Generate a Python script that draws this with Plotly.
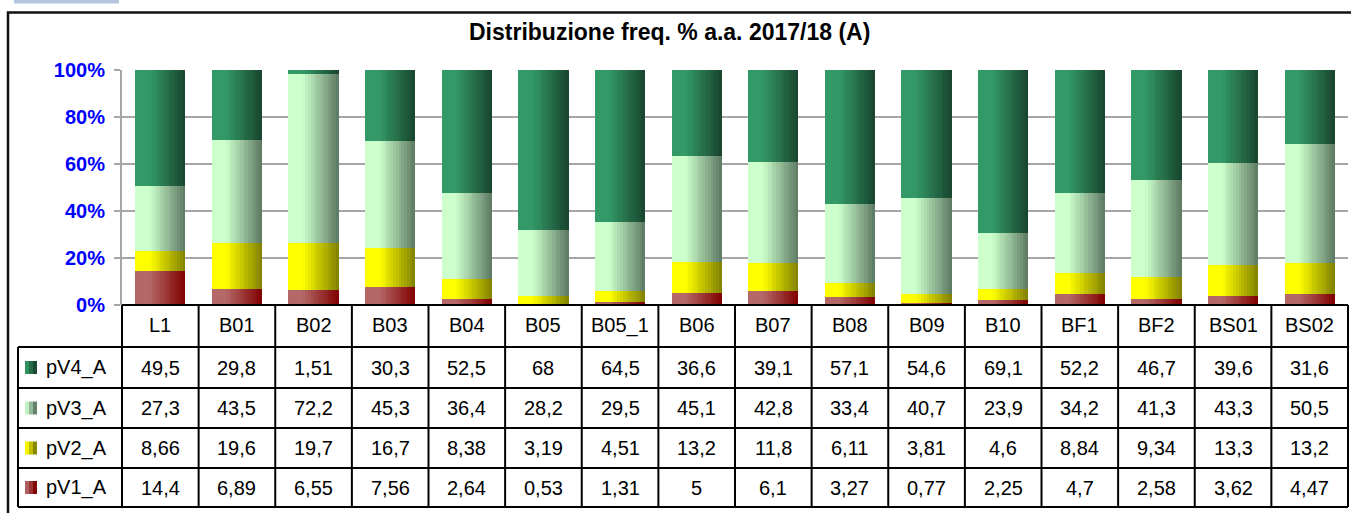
import plotly.graph_objects as go

# ---------------- data ----------------
categories = ["L1", "B01", "B02", "B03", "B04", "B05", "B05_1", "B06",
              "B07", "B08", "B09", "B10", "BF1", "BF2", "BS01", "BS02"]
pV4_A = [49.5, 29.8, 1.51, 30.3, 52.5, 68, 64.5, 36.6, 39.1, 57.1, 54.6, 69.1, 52.2, 46.7, 39.6, 31.6]
pV3_A = [27.3, 43.5, 72.2, 45.3, 36.4, 28.2, 29.5, 45.1, 42.8, 33.4, 40.7, 23.9, 34.2, 41.3, 43.3, 50.5]
pV2_A = [8.66, 19.6, 19.7, 16.7, 8.38, 3.19, 4.51, 13.2, 11.8, 6.11, 3.81, 4.6, 8.84, 9.34, 13.3, 13.2]
pV1_A = [14.4, 6.89, 6.55, 7.56, 2.64, 0.53, 1.31, 5, 6.1, 3.27, 0.77, 2.25, 4.7, 2.58, 3.62, 4.47]
series_names = ["pV1_A", "pV2_A", "pV3_A", "pV4_A"]          # bottom -> top
y_tick_values = [0, 20, 40, 60, 80, 100]
y_tick_labels = ["0%", "20%", "40%", "60%", "80%", "100%"]
title_text = "Distribuzione freq. % a.a. 2017/18 (A)"

series_values = {"pV1_A": pV1_A, "pV2_A": pV2_A, "pV3_A": pV3_A, "pV4_A": pV4_A}

# ---------------- style ----------------
W, H = 1351, 513
L, R, T, B = 122, 1348, 70, 305          # plot area in pixels
FONT = "Liberation Sans, Arial, Helvetica, sans-serif"
grad = {   # left colour, right colour
    "pV4_A": ((51, 153, 102), (24, 68, 46)),
    "pV3_A": ((204, 255, 204), (92, 120, 98)),
    "pV2_A": ((255, 255, 0), (128, 128, 0)),
    "pV1_A": ((181, 104, 104), (128, 0, 0)),
}


def px_x(px):
    return (px - L) / (R - L)


def px_y(py):
    return (B - py) / (B - T)


def grad_color(name, t):
    c0, c1 = grad[name]
    u = min(max((t - 0.28) / 0.72, 0.0), 1.0)
    c = [round(a + (b - a) * u) for a, b in zip(c0, c1)]
    return "rgb(%d,%d,%d)" % tuple(c)


n = len(categories)
totals = [sum(series_values[s][i] for s in series_names) for i in range(n)]

fig = go.Figure()

# ---------------- bars (gradient strips) ----------------
BW = 0.655
NSTRIP = 18
SW = BW / NSTRIP
base = [0.0] * n
for s in series_names:
    pct = [series_values[s][i] / totals[i] * 100 for i in range(n)]
    for k in range(NSTRIP):
        t = (k + 0.5) / NSTRIP
        fig.add_trace(go.Bar(
            x=categories, y=pct, base=list(base),
            width=SW * (1.0 if k == NSTRIP - 1 else 1.25),
            offset=-BW / 2 + k * SW,
            marker=dict(color=grad_color(s, t), line=dict(width=0)),
            name=s, showlegend=False, hoverinfo="skip"))
    base = [base[i] + pct[i] for i in range(n)]

# ---------------- table ----------------
shapes = []
annotations = []
LINE = dict(color="black", width=2)
row_edges = [305, 347, 388, 428, 468, 507]
header_center = (row_edges[0] + row_edges[1]) / 2
table_rows = ["pV4_A", "pV3_A", "pV2_A", "pV1_A"]
TFONT = 20

# horizontal lines
shapes.append(dict(type="line", xref="paper", yref="paper",
                   x0=0, x1=1, y0=px_y(row_edges[0]), y1=px_y(row_edges[0]), line=LINE))
for py in row_edges[1:]:
    shapes.append(dict(type="line", xref="paper", yref="paper",
                       x0=px_x(18), x1=1, y0=px_y(py), y1=px_y(py), line=LINE))
# vertical lines
for i in range(n + 1):
    shapes.append(dict(type="line", xref="paper", yref="paper",
                       x0=i / n, x1=i / n, y0=px_y(row_edges[0]), y1=px_y(row_edges[-1]), line=LINE))
shapes.append(dict(type="line", xref="paper", yref="paper",
                   x0=px_x(18), x1=px_x(18), y0=px_y(row_edges[1]), y1=px_y(row_edges[-1]), line=LINE))

# header labels
for c in categories:
    annotations.append(dict(x=c, xref="x", y=px_y(header_center - 1), yref="paper",
                            text=c, showarrow=False, xanchor="center", yanchor="middle",
                            font=dict(family=FONT, size=TFONT, color="black")))


def fmt(v):
    return str(v).replace(".", ",")


for r, s in enumerate(table_rows):
    yc = (row_edges[r + 1] + row_edges[r + 2]) / 2
    # legend key (small gradient square)
    for k in range(3):
        shapes.append(dict(type="rect", xref="paper", yref="paper",
                           x0=px_x(25 + k * 4), x1=px_x(29 + k * 4),
                           y0=px_y(yc - 6.5), y1=px_y(yc + 6.5),
                           fillcolor=grad_color(s, (k + 0.5) / 3 * 0.9 + 0.2),
                           line=dict(width=0)))
    annotations.append(dict(x=px_x(44), xref="paper", y=px_y(yc), yref="paper",
                            text=s, showarrow=False, xanchor="left", yanchor="middle",
                            font=dict(family=FONT, size=TFONT, color="black")))
    for i, c in enumerate(categories):
        annotations.append(dict(x=c, xref="x", y=px_y(yc), yref="paper",
                                text=fmt(series_values[s][i]), showarrow=False,
                                xanchor="center", yanchor="middle",
                                font=dict(family=FONT, size=TFONT, color="black")))

# outer chart border and the small tab at the top-left
shapes.append(dict(type="rect", xref="paper", yref="paper",
                   x0=px_x(8), x1=px_x(1365), y0=px_y(12.5), y1=px_y(530),
                   line=dict(color="#111111", width=2.5), layer="below"))
shapes.append(dict(type="rect", xref="paper", yref="paper",
                   x0=px_x(14), x1=px_x(119), y0=px_y(-2), y1=px_y(3.5),
                   fillcolor="#b4c6df", line=dict(width=0), layer="below"))

annotations.append(dict(x=px_x(669.5), xref="paper", y=px_y(32), yref="paper",
                        text=title_text, showarrow=False, xanchor="center", yanchor="middle",
                        font=dict(family=FONT, size=23, color="black", weight="bold")))

fig.update_layout(
    width=W, height=H,
    margin=dict(l=L, r=W - R, t=T, b=H - B, pad=0),
    paper_bgcolor="white", plot_bgcolor="white",
    barmode="overlay", bargap=0,
    shapes=shapes, annotations=annotations,
    showlegend=False,
    xaxis=dict(type="category", range=[-0.5, n - 0.5], showticklabels=False,
               showgrid=False, zeroline=False, showline=False, ticks=""),
    yaxis=dict(range=[0, 100], tickvals=y_tick_values, ticktext=y_tick_labels,
               showgrid=True, gridcolor="#a6a6a6", gridwidth=2,
               showline=True, linecolor="#a6a6a6", linewidth=2,
               ticks="outside", ticklen=6, tickcolor="#a6a6a6", tickwidth=2,
               ticklabelstandoff=5, zeroline=False,
               tickfont=dict(family=FONT, size=20, color="#0000ff", weight="bold")),
)

fig.write_html("out.html", config={"displayModeBar": False},
               post_script="document.body.style.margin='0';document.body.style.padding='0';")
